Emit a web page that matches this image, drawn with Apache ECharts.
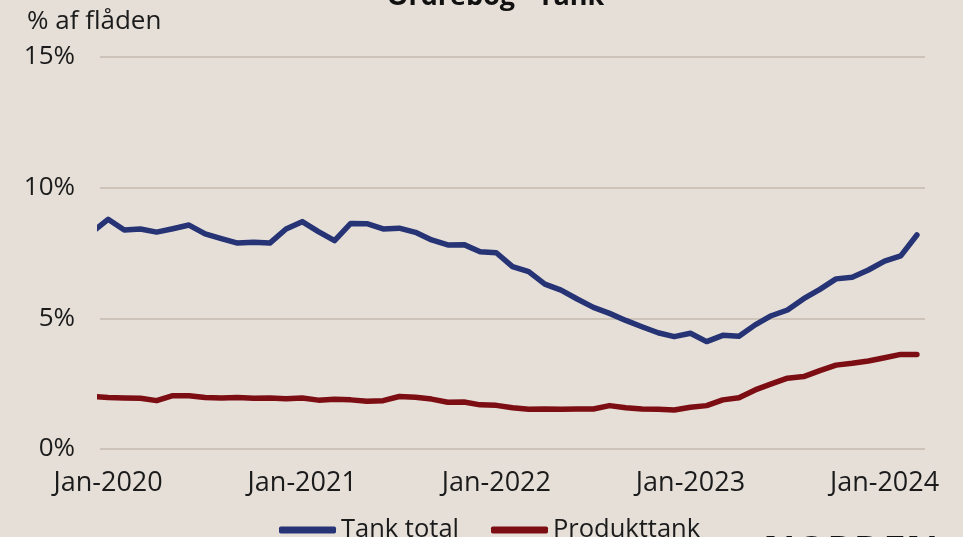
<!DOCTYPE html>
<html>
<head>
<meta charset="utf-8">
<script src="https://cdn.jsdelivr.net/npm/echarts@6/dist/echarts.min.js"></script>
<style>
  html, body { margin: 0; padding: 0; background: #e5dfd8; }
  #chart { width: 963px; height: 537px; }
</style>
</head>
<body>
<div id="chart"></div>
<script>
// months (Dec-2019 is only the stub at the left edge)
const months = [
  "Dec-2019",
  "Jan-2020", "Feb-2020", "Mar-2020", "Apr-2020", "May-2020", "Jun-2020",
  "Jul-2020", "Aug-2020", "Sep-2020", "Oct-2020", "Nov-2020", "Dec-2020",
  "Jan-2021", "Feb-2021", "Mar-2021", "Apr-2021", "May-2021", "Jun-2021",
  "Jul-2021", "Aug-2021", "Sep-2021", "Oct-2021", "Nov-2021", "Dec-2021",
  "Jan-2022", "Feb-2022", "Mar-2022", "Apr-2022", "May-2022", "Jun-2022",
  "Jul-2022", "Aug-2022", "Sep-2022", "Oct-2022", "Nov-2022", "Dec-2022",
  "Jan-2023", "Feb-2023", "Mar-2023", "Apr-2023", "May-2023", "Jun-2023",
  "Jul-2023", "Aug-2023", "Sep-2023", "Oct-2023", "Nov-2023", "Dec-2023",
  "Jan-2024", "Feb-2024", "Mar-2024"
];

const tankTotal = [
  8.29,
  8.79, 8.38, 8.42, 8.30, 8.43, 8.57, 8.23, 8.05, 7.88, 7.91, 7.88, 8.42,
  8.70, 8.32, 7.97, 8.63, 8.62, 8.42, 8.45, 8.29, 8.00, 7.81, 7.82, 7.55,
  7.51, 6.98, 6.79, 6.31, 6.08, 5.74, 5.42, 5.19, 4.92, 4.68, 4.45, 4.30,
  4.43, 4.11, 4.35, 4.31, 4.75, 5.10, 5.32, 5.75, 6.11, 6.51, 6.57, 6.85,
  7.19, 7.39, 8.19
];

const produkttank = [
  2.01,
  1.97, 1.95, 1.94, 1.85, 2.04, 2.04, 1.97, 1.95, 1.97, 1.94, 1.95, 1.92,
  1.95, 1.87, 1.90, 1.88, 1.83, 1.85, 2.01, 1.98, 1.91, 1.79, 1.80, 1.69,
  1.67, 1.58, 1.52, 1.53, 1.52, 1.53, 1.53, 1.66, 1.58, 1.53, 1.52, 1.49,
  1.60, 1.66, 1.88, 1.96, 2.26, 2.49, 2.71, 2.77, 3.00, 3.21, 3.28, 3.37,
  3.49, 3.62, 3.62
];

const tickLabels = ["Jan-2020", "Jan-2021", "Jan-2022", "Jan-2023", "Jan-2024"];

const FONT = "'Open Sans', sans-serif";
const TEXT = "#1b1b1b";

// x = index in months, Jan-2020 sits at 1
const toPoints = vals => vals.map((v, i) => [i, v]);
const tickIdx = tickLabels.map(l => months.indexOf(l));

const chart = echarts.init(document.getElementById("chart"), null, { renderer: "canvas" });

chart.setOption({
  backgroundColor: "#e5dfd8",
  animation: false,
  textStyle: { fontFamily: FONT },
  grid: { left: 100, right: 38, top: 57, bottom: 88, containLabel: false },
  graphic: [
    {
      type: "text",
      left: 387,
      top: -16,
      style: {
        text: "Ordrebog - Tank",
        font: "bold 27px " + FONT,
        fill: "#111"
      }
    },
    {
      type: "text",
      left: 27,
      top: 9,
      style: {
        text: "% af flåden",
        font: "26px " + FONT,
        fill: TEXT
      }
    },
    {
      type: "text",
      left: 763,
      top: 533,
      style: {
        text: "NORDEN",
        font: "bold 40px " + FONT,
        fill: "#111"
      }
    }
  ],
  legend: {
    bottom: -11,
    left: 274,
    icon: "roundRect",
    itemWidth: 57,
    itemHeight: 7,
    itemGap: 32,
    textStyle: { fontSize: 25.5, color: TEXT, fontFamily: FONT },
    data: ["Tank total", "Produkttank"]
  },
  xAxis: {
    type: "value",
    min: 0.5,
    max: months.length - 0.5,
    splitLine: { show: false },
    axisLine: { show: false },
    axisTick: { show: false },
    axisLabel: {
      customValues: tickIdx,
      formatter: v => months[v],
      fontSize: 27,
      color: TEXT,
      margin: 21
    }
  },
  yAxis: {
    type: "value",
    min: 0,
    max: 15,
    interval: 5,
    axisLine: { show: false },
    axisTick: { show: false },
    splitLine: { lineStyle: { color: "#cdc3b8", width: 2 } },
    axisLabel: {
      formatter: "{value}%",
      fontSize: 26,
      color: TEXT,
      margin: 25,
      padding: [9, 0, 0, 0]
    }
  },
  series: [
    {
      name: "Tank total",
      type: "line",
      data: toPoints(tankTotal),
      showSymbol: false,
      clip: true,
      color: "#263374",
      lineStyle: { width: 5.5, color: "#263374", cap: "round", join: "round" }
    },
    {
      name: "Produkttank",
      type: "line",
      data: toPoints(produkttank),
      showSymbol: false,
      clip: true,
      color: "#7c0d12",
      lineStyle: { width: 5.5, color: "#7c0d12", cap: "round", join: "round" }
    }
  ]
});
</script>
</body>
</html>
